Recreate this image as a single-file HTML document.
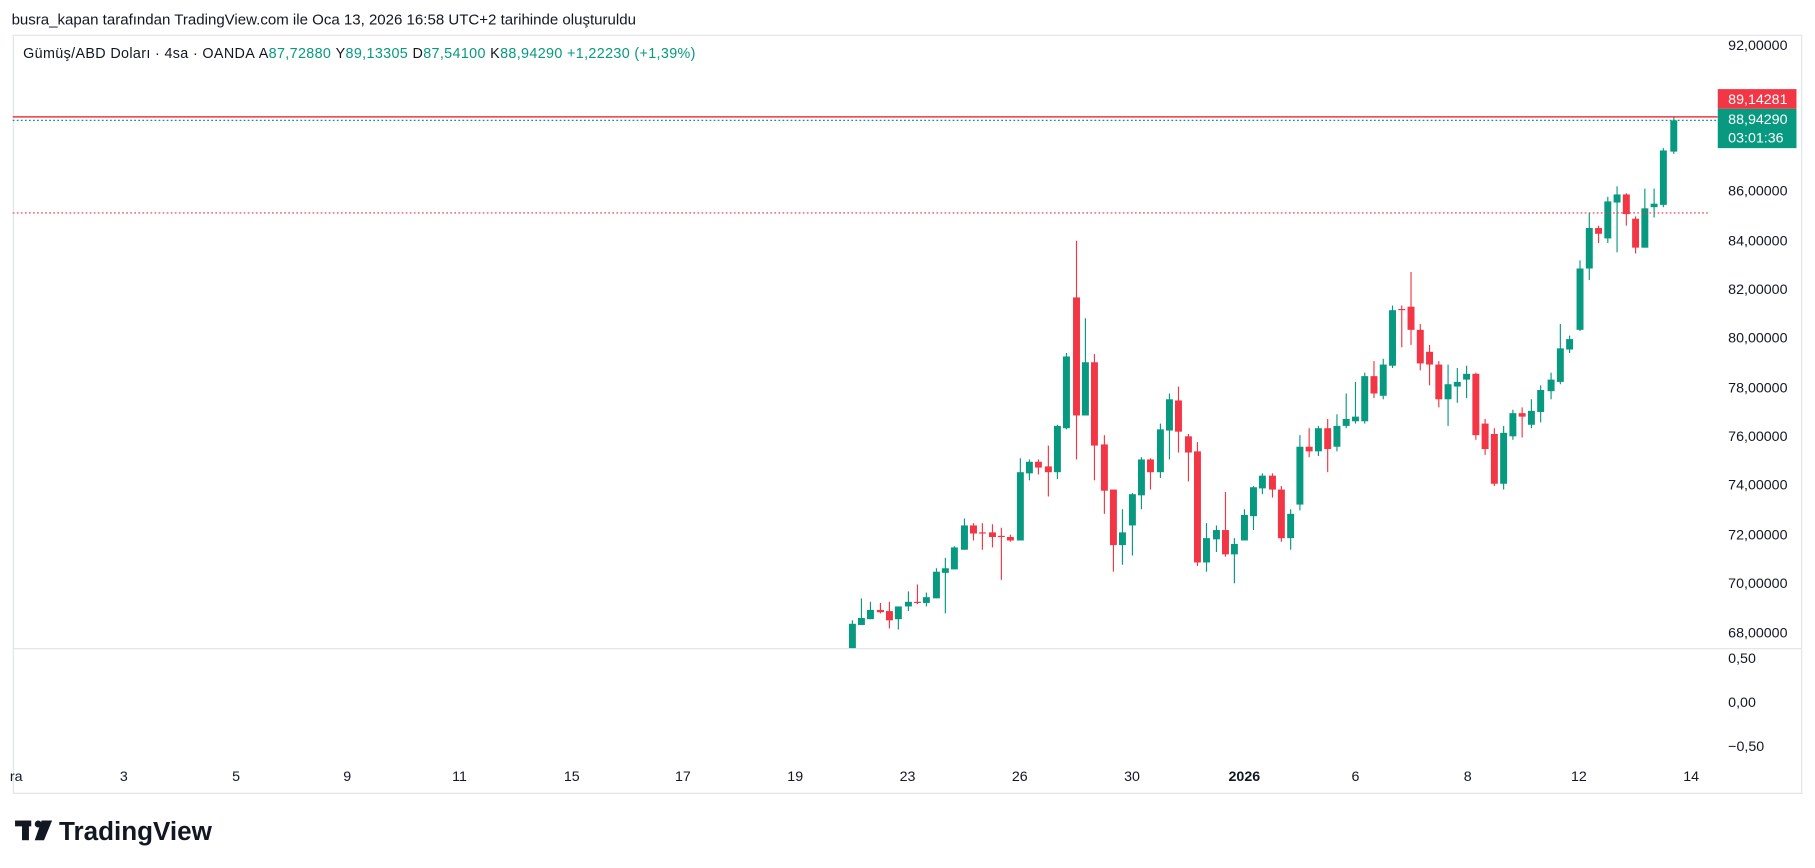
<!DOCTYPE html>
<html><head><meta charset="utf-8"><style>
html,body{margin:0;padding:0;background:#fff;width:1815px;height:868px;overflow:hidden}
svg{display:block}
text{font-family:"Liberation Sans",sans-serif}
</style></head><body>
<svg id="s" width="1815" height="868" viewBox="0 0 1568 750" preserveAspectRatio="none" xmlns="http://www.w3.org/2000/svg">
<rect x="0" y="0" width="1568" height="750" fill="#fff"/>
<text x="10" y="21" font-size="13" fill="#131722">busra_kapan tarafından TradingView.com ile Oca 13, 2026 16:58 UTC+2 tarihinde oluşturuldu</text>
<rect x="11.5" y="30.5" width="1545" height="655" fill="none" stroke="#e0e3eb"/>
<line x1="11" y1="560.5" x2="1556" y2="560.5" stroke="#e0e3eb"/>
<text x="20" y="50" font-size="12.4" letter-spacing="0.3" fill="#131722">Gümüş/ABD Doları · 4sa · OANDA  <tspan fill="#131722">A</tspan><tspan fill="#089981">87,72880</tspan>  <tspan fill="#131722">Y</tspan><tspan fill="#089981">89,13305</tspan>  <tspan fill="#131722">D</tspan><tspan fill="#089981">87,54100</tspan>  <tspan fill="#131722">K</tspan><tspan fill="#089981">88,94290</tspan>  <tspan fill="#089981">+1,22230 (+1,39%)</tspan></text>
<g id="c"></g>
<line x1="11" y1="101" x2="1484" y2="101" stroke="#F23645" stroke-width="1.3"/>
<line x1="11" y1="104" x2="1484" y2="104" stroke="#089981" stroke-dasharray="1.5 2"/>
<line x1="11" y1="184" x2="1476" y2="184" stroke="#F23645" stroke-dasharray="1.5 2"/>
<g font-size="12.3" fill="#131722">
<text x="1493" y="43">92,00000</text>
<text x="1493" y="169">86,00000</text>
<text x="1493" y="212">84,00000</text>
<text x="1493" y="254">82,00000</text>
<text x="1493" y="296">80,00000</text>
<text x="1493" y="339">78,00000</text>
<text x="1493" y="381">76,00000</text>
<text x="1493" y="423">74,00000</text>
<text x="1493" y="466">72,00000</text>
<text x="1493" y="508">70,00000</text>
<text x="1493" y="551">68,00000</text>
<text x="1493" y="573">0,50</text>
<text x="1493" y="611">0,00</text>
<text x="1493" y="649">−0,50</text>
</g>
<rect x="1484" y="77" width="68" height="17" fill="#F23645"/>
<text x="1493" y="90" font-size="12.3" fill="#fff">89,14281</text>
<rect x="1484" y="94" width="68" height="34" fill="#089981"/>
<text x="1493" y="107" font-size="12.3" fill="#fff">88,94290</text>
<text x="1493" y="123" font-size="12.3" fill="#fff">03:01:36</text>
<g font-size="12.3" fill="#131722" text-anchor="middle">
<text x="14" y="675">ra</text><text x="107" y="675">3</text><text x="204" y="675">5</text><text x="300" y="675">9</text>
<text x="397" y="675">11</text><text x="494" y="675">15</text><text x="590" y="675">17</text><text x="687" y="675">19</text>
<text x="784" y="675">23</text><text x="881" y="675">26</text><text x="978" y="675">30</text>
<text x="1075" y="675" font-weight="bold">2026</text><text x="1171" y="675">6</text><text x="1268" y="675">8</text>
<text x="1364" y="675">12</text><text x="1461" y="675">14</text>
</g>
<g fill="#131722">
<rect x="13" y="709" width="14" height="5"/><rect x="19" y="709" width="6" height="17"/>
<circle cx="33" cy="712" r="3"/>
<polygon points="36,709 45,709 38,726 30,726"/>
<text x="51" y="726" font-size="22.5" font-weight="bold">TradingView</text>
</g>
</svg>
<script>
var d=[
[736.4,'g',539,560,536,560],[744.2,'g',534,540,517,540],[752,'g',527,535,520,535],[760.6,'r',527,529,521,530],
[768.4,'r',528,536,520,543],[776.1,'g',524,535,524,544],[784.8,'g',520,524,511,528],[792.6,'r',520,521,505,522],
[800.3,'g',516,521,512,524],[809,'g',494,517,491,517],[816.7,'g',491,495,482,530],[824.5,'g',473,492,472,492],
[833.2,'g',454,475,448,475],[841,'r',454,461,452,467],[848.7,'r',460,461,452,475],[857.4,'r',460,464,453,473],
[865.1,'r',463,464,456,501],[872.9,'r',464,467,462,468],[881.5,'g',408,467,396,467],[889.3,'g',399,409,397,415],
[897.1,'r',399,404,397,410],[905.7,'r',403,408,385,429],[913.5,'g',368,408,367,414],[921.3,'g',308,370,305,371],
[930,'r',257,359,208,397],[937.7,'g',313,359,275,359],[945.5,'r',313,385,306,415],[954.1,'r',384,424,376,444],
[961.9,'r',423,471,423,494],[969.7,'g',460,471,440,488],[978.3,'g',427,454,426,480],[986.1,'g',397,428,395,440],
[993.9,'r',397,408,396,423],[1002.5,'g',371,408,366,413],[1010.3,'g',345,372,340,397],[1018.1,'r',346,373,334,391],
[1026.7,'r',377,391,375,416],[1034.5,'r',390,486,382,489],[1042.3,'g',465,486,452,494],[1050.9,'g',458,466,454,477],
[1058.7,'r',458,479,425,481],[1066.4,'g',470,479,465,504],[1075.1,'g',445,467,440,467],[1082.9,'g',421,446,420,458],
[1090.6,'g',411,422,409,427],[1099.3,'r',411,423,409,430],[1107,'r',423,465,420,468],[1115,'g',444,465,440,475],
[1123,'g',386,436,376,441],[1131,'r',386,390,370,395],[1139,'g',370,390,368,394],[1147,'r',370,388,362,408],
[1155,'g',368,386,358,390],[1163,'g',362,368,340,370],[1171,'g',360,364,330,366],[1179,'g',325,364,322,366],
[1187,'r',325,340,312,344],[1195,'g',315,342,310,345],[1203,'g',268,316,264,318],[1211,'r',267,268,264,300],
[1219,'r',265,285,235,298],[1227,'r',285,314,280,320],[1235,'r',304,315,298,333],[1243,'r',315,345,312,352],
[1251,'g',332,345,315,368],[1259,'g',330,334,318,348],[1267,'g',323,328,316,344],[1275,'r',323,376,322,380],
[1283,'r',366,388,362,393],[1291,'r',375,418,370,420],[1299,'g',374,418,368,423],[1307,'g',357,377,354,380],
[1315,'r',357,360,352,378],[1323,'g',355,367,345,370],[1331,'g',337,356,333,365],[1340,'g',328,338,322,345],
[1348,'g',301,330,280,332],[1356,'g',293,302,290,305],[1365,'g',232,285,225,286],[1373,'g',197,232,184,242],
[1381,'r',197,202,195,210],[1389,'g',174,206,170,210],[1397,'g',168,175,161,218],[1405,'r',168,185,167,195],
[1413,'r',189,214,187,219],[1421,'g',180,214,163,214],[1429,'g',176,179,163,188],[1437,'g',130,177,128,179],
[1446,'g',104,131,101,133]];
var g=document.getElementById('c'),h='';
d.forEach(function(c){var col=c[1]=='g'?'#089981':'#F23645';var bh=Math.max(c[3]-c[2],1);
h+='<line x1="'+c[0]+'" x2="'+c[0]+'" y1="'+c[4]+'" y2="'+c[5]+'" stroke="'+col+'" stroke-width="1"/>';
h+='<rect x="'+(c[0]-3)+'" y="'+c[2]+'" width="6" height="'+bh+'" fill="'+col+'"/>';});
g.innerHTML=h;
</script>
</body></html>
